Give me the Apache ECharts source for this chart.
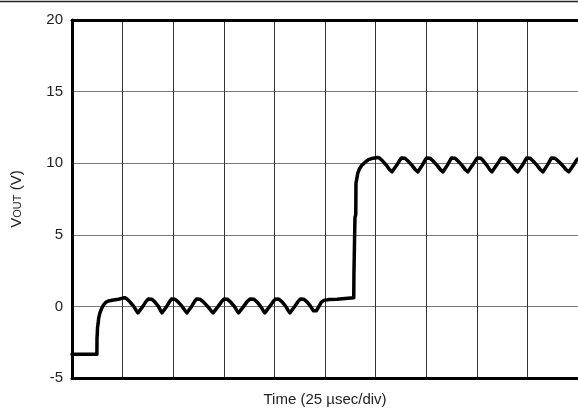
<!DOCTYPE html>
<html lang="en">
<head>
    <meta charset="UTF-8">
    <title>VOUT step response</title>
    <style>
        html, body { margin: 0; padding: 0; background: #fff; }
        #chart { width: 578px; height: 412px; }
    </style>
</head>
<body>
    <div id="chart"></div>
    <script src="https://cdn.jsdelivr.net/npm/echarts@6/dist/echarts.min.js"></script>
    <script>
        // axis ticks (V) and time grid (usec, 25 usec/div)
        var yTicks = [-5, 0, 5, 10, 15, 20];
        var timeDivs = [0, 25, 50, 75, 100, 125, 150, 175, 200, 225, 250];

        // scope trace: [time usec, vout V]
        var scopeTrace = [
            [0, -3.35], [12.3, -3.35], [12.35, -2.2], [12.5, -1.9], [12.6, -1.5], [12.9, -1.2],
            [13.2, -0.8], [13.8, -0.45], [14.6, -0.15], [15.6, 0.1], [16.8, 0.3], [18.5, 0.4],
            [20.5, 0.45], [23.0, 0.5], [25.0, 0.58], [26.2, 0.6],
            [27.2, 0.52], [28.7, 0.3], [30.5, 0.0], [31.8, -0.3], [32.6, -0.45], [33.4, -0.35], [35.0, 0.0], [36.6, 0.35], [37.7, 0.52], [38.5, 0.55],
            [39.5, 0.5], [41.0, 0.3], [42.7, 0.0], [43.8, -0.3], [44.5, -0.45], [45.3, -0.35], [46.8, 0.0], [48.3, 0.35], [49.2, 0.52], [49.9, 0.55],
            [50.9, 0.5], [52.5, 0.3], [54.4, 0.0], [55.9, -0.3], [56.8, -0.45], [57.6, -0.35], [59.1, 0.0], [60.6, 0.35], [61.5, 0.52], [62.2, 0.55],
            [63.2, 0.5], [65.0, 0.3], [67.0, 0.0], [68.7, -0.3], [69.7, -0.45], [70.5, -0.35], [72.2, 0.0], [74.0, 0.35], [75.1, 0.52], [75.8, 0.55],
            [76.8, 0.5], [78.4, 0.3], [80.2, 0.0], [81.5, -0.3], [82.3, -0.45], [83.1, -0.35], [84.8, 0.0], [86.6, 0.35], [88.1, 0.52], [88.9, 0.55],
            [89.9, 0.5], [91.5, 0.3], [93.2, 0.0], [94.5, -0.3], [95.3, -0.45], [96.1, -0.35], [97.7, 0.0], [99.4, 0.35], [100.6, 0.52], [101.3, 0.55],
            [102.3, 0.5], [103.9, 0.3], [105.6, 0.0], [106.9, -0.3], [107.7, -0.45], [108.5, -0.35], [110.0, 0.0], [111.7, 0.35], [112.9, 0.52], [113.6, 0.55],
            [114.6, 0.5], [116.2, 0.3], [117.9, 0.0], [119.2, -0.3], [120.0, -0.4], [120.8, -0.3], [122.0, 0.0], [123.2, 0.3], [124.5, 0.42],
            [127.0, 0.48], [131.0, 0.5], [135.0, 0.55], [139.2, 0.6],
            [139.3, 2.3], [139.7, 2.4], [139.8, 6.2], [140.2, 6.4], [140.3, 8.6], [140.7, 8.9], [141.2, 9.3],
            [142.0, 9.6], [143.2, 9.85], [144.7, 10.05], [146.5, 10.25], [148.7, 10.35], [151.0, 10.4],
            [152.0, 10.35], [153.5, 10.15], [155.4, 9.85], [156.9, 9.55], [158.1, 9.4], [158.9, 9.5], [160.4, 9.85], [161.9, 10.2], [162.8, 10.37], [163.5, 10.4],
            [164.5, 10.35], [166.0, 10.15], [168.0, 9.85], [169.6, 9.55], [170.9, 9.4], [171.7, 9.5], [173.0, 9.85], [174.4, 10.2], [175.2, 10.37], [175.9, 10.4],
            [176.9, 10.35], [178.4, 10.15], [180.4, 9.85], [182.0, 9.55], [183.3, 9.4], [184.1, 9.5], [185.4, 9.85], [186.8, 10.2], [187.5, 10.37], [188.2, 10.4],
            [189.2, 10.35], [190.7, 10.15], [192.7, 9.85], [194.3, 9.55], [195.6, 9.4], [196.4, 9.5], [197.8, 9.85], [199.4, 10.2], [200.3, 10.37], [201.0, 10.4],
            [202.0, 10.35], [203.3, 10.15], [205.0, 9.85], [206.4, 9.55], [207.5, 9.4], [208.3, 9.5], [209.7, 9.85], [211.3, 10.2], [212.2, 10.37], [212.9, 10.4],
            [213.9, 10.35], [215.4, 10.15], [217.4, 9.85], [219.0, 9.55], [220.3, 9.4], [221.1, 9.5], [222.5, 9.85], [223.9, 10.2], [224.6, 10.37], [225.3, 10.4],
            [226.3, 10.35], [227.8, 10.15], [229.8, 9.85], [231.4, 9.55], [232.7, 9.4], [233.5, 9.5], [234.8, 9.85], [236.2, 10.2], [236.9, 10.37], [237.6, 10.4],
            [238.6, 10.35], [240.2, 10.15], [242.3, 9.85], [244.1, 9.55], [245.5, 9.4], [246.3, 9.5], [247.7, 9.85], [249.2, 10.2], [250, 10.3]
        ];

        var myChart = echarts.init(document.getElementById('chart'));
        var font = 'Liberation Sans, Arial, Helvetica, sans-serif';

        var option = {
            animation: false,
            backgroundColor: '#fff',
            grid: { left: 72, top: 20, right: 0, bottom: 33 },
            graphic: [{
                type: 'line',
                shape: { x1: 0, y1: 1.5, x2: 578, y2: 1.5 },
                style: { stroke: '#222', lineWidth: 1.5 }
            }],
            xAxis: [{
                type: 'value',
                min: timeDivs[0],
                max: timeDivs[timeDivs.length - 1],
                interval: timeDivs[1] - timeDivs[0],
                name: 'Time (25 \u00b5sec/div)',
                nameLocation: 'middle',
                nameGap: 14,
                nameTextStyle: { fontFamily: font, fontSize: 15, color: '#222' },
                axisLine: { onZero: false, lineStyle: { color: '#000', width: 3 } },
                axisTick: { show: false },
                axisLabel: { show: false },
                splitLine: { show: true, lineStyle: { color: '#333', width: 1 } }
            }, {
                type: 'value',
                position: 'top',
                min: timeDivs[0],
                max: timeDivs[timeDivs.length - 1],
                axisLine: { show: true, onZero: false, lineStyle: { color: '#000', width: 3 } },
                axisTick: { show: false },
                axisLabel: { show: false },
                splitLine: { show: false }
            }],
            yAxis: {
                type: 'value',
                min: yTicks[0],
                max: yTicks[yTicks.length - 1],
                interval: yTicks[1] - yTicks[0],
                name: '{v|V}{s|OUT}{v| (V)}',
                nameLocation: 'middle',
                nameGap: 48,
                nameTextStyle: {
                    color: '#222',
                    rich: {
                        v: { fontFamily: font, fontSize: 15, color: '#222' },
                        s: { fontFamily: font, fontSize: 11, color: '#222', padding: [3, 0, 0, 0] }
                    }
                },
                axisLine: { show: true, onZero: false, lineStyle: { color: '#000', width: 3 } },
                axisTick: { show: false },
                axisLabel: { fontFamily: font, fontSize: 15, color: '#222', margin: 9 },
                splitLine: { show: true, lineStyle: { color: '#777', width: 1 } }
            },
            series: [{
                type: 'line',
                data: scopeTrace,
                showSymbol: false,
                smooth: false,
                lineStyle: { color: '#000', width: 3.5, join: 'round', cap: 'round' },
                z: 5
            }]
        };
        myChart.setOption(option);
    </script>
</body>
</html>
